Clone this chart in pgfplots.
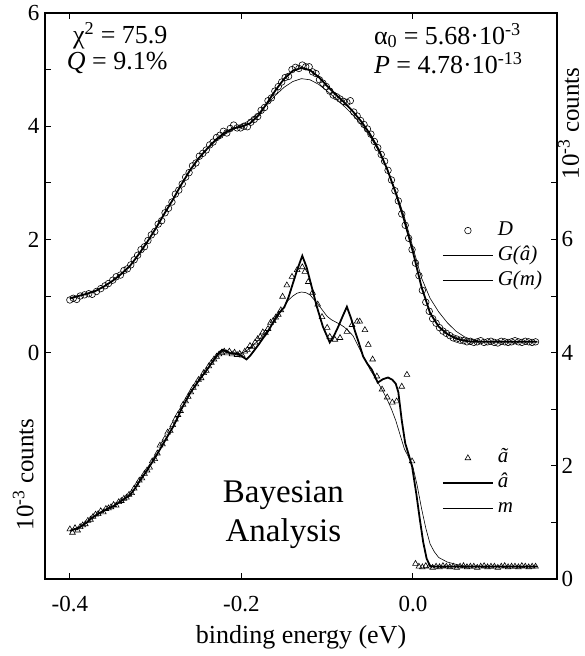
\documentclass[border=0pt]{standalone}
\usepackage{fontspec}
\setmainfont{Liberation Serif}
\usepackage{pgfplots}
\usepackage{pgfplotstable}
\pgfplotsset{compat=1.18}

% upper spectrum D (left axis)
\pgfplotstableread{
x y
-0.400 0.93
-0.396 0.96
-0.392 0.94
-0.388 1.00
-0.383 1.02
-0.378 1.04
-0.374 1.03
-0.369 1.08
-0.364 1.13
-0.359 1.18
-0.355 1.22
-0.350 1.28
-0.346 1.34
-0.341 1.37
-0.337 1.45
-0.333 1.48
-0.329 1.55
-0.325 1.64
-0.321 1.72
-0.317 1.82
-0.313 1.87
-0.309 1.98
-0.305 2.08
-0.301 2.14
-0.297 2.27
-0.293 2.33
-0.289 2.47
-0.285 2.55
-0.281 2.66
-0.277 2.80
-0.273 2.87
-0.269 2.98
-0.265 3.10
-0.261 3.18
-0.257 3.30
-0.253 3.35
-0.249 3.47
-0.245 3.52
-0.241 3.58
-0.237 3.67
-0.233 3.72
-0.229 3.80
-0.225 3.84
-0.221 3.91
-0.217 3.88
-0.213 3.96
-0.209 4.02
-0.205 3.97
-0.201 3.97
-0.197 4.00
-0.193 3.99
-0.189 4.07
-0.185 4.12
-0.181 4.17
-0.177 4.28
-0.173 4.33
-0.169 4.45
-0.165 4.50
-0.161 4.62
-0.157 4.70
-0.153 4.78
-0.149 4.86
-0.145 4.88
-0.141 5.00
-0.137 5.04
-0.133 5.02
-0.129 5.08
-0.125 5.05
-0.121 5.05
-0.117 4.96
-0.113 4.93
-0.109 4.82
-0.105 4.76
-0.101 4.70
-0.097 4.62
-0.093 4.55
-0.089 4.52
-0.085 4.48
-0.081 4.44
-0.077 4.42
-0.073 4.45
-0.069 4.25
-0.065 4.18
-0.061 4.10
-0.057 4.03
-0.053 3.95
-0.049 3.86
-0.045 3.73
-0.041 3.62
-0.037 3.50
-0.033 3.38
-0.029 3.22
-0.025 3.05
-0.021 2.86
-0.017 2.68
-0.013 2.45
-0.009 2.25
-0.005 2.02
-0.001 1.82
0.003 1.58
0.007 1.36
0.011 1.10
0.015 0.89
0.019 0.73
0.023 0.60
0.027 0.52
0.031 0.44
0.035 0.38
0.039 0.34
0.043 0.30
0.047 0.26
0.051 0.24
0.055 0.22
0.059 0.21
0.063 0.19
0.067 0.20
0.071 0.18
0.075 0.19
0.079 0.21
0.083 0.18
0.087 0.19
0.091 0.20
0.095 0.18
0.099 0.17
0.103 0.20
0.107 0.19
0.111 0.18
0.115 0.19
0.119 0.21
0.123 0.19
0.127 0.18
0.131 0.20
0.135 0.19
0.139 0.18
0.143 0.19
}\Ddata

\pgfplotstableread{
x y
-0.400 0.96
-0.390 1.00
-0.380 1.04
-0.370 1.09
-0.360 1.17
-0.350 1.27
-0.340 1.39
-0.330 1.53
-0.320 1.73
-0.310 1.95
-0.300 2.19
-0.290 2.45
-0.280 2.70
-0.270 2.97
-0.260 3.22
-0.250 3.43
-0.240 3.60
-0.230 3.76
-0.220 3.88
-0.210 3.96
-0.200 3.99
-0.190 4.05
-0.180 4.19
-0.170 4.41
-0.160 4.64
-0.150 4.84
-0.140 4.98
-0.130 5.03
-0.120 4.99
-0.110 4.87
-0.100 4.71
-0.090 4.56
-0.080 4.42
-0.070 4.26
-0.060 4.08
-0.050 3.86
-0.040 3.59
-0.030 3.24
-0.020 2.82
-0.010 2.33
0.000 1.78
0.010 1.16
0.020 0.70
0.030 0.46
0.040 0.33
0.050 0.25
0.060 0.21
0.070 0.19
0.080 0.19
0.100 0.19
0.120 0.19
0.145 0.19
}\GAdata

\pgfplotstableread{
x y
-0.400 0.96
-0.390 1.00
-0.380 1.04
-0.370 1.09
-0.360 1.17
-0.350 1.27
-0.340 1.39
-0.330 1.53
-0.320 1.73
-0.310 1.95
-0.300 2.19
-0.290 2.45
-0.280 2.70
-0.270 2.97
-0.260 3.22
-0.250 3.43
-0.240 3.60
-0.230 3.74
-0.220 3.85
-0.210 3.94
-0.200 4.02
-0.190 4.11
-0.180 4.23
-0.170 4.39
-0.160 4.55
-0.150 4.69
-0.140 4.79
-0.130 4.84
-0.120 4.82
-0.110 4.74
-0.100 4.62
-0.090 4.49
-0.080 4.35
-0.070 4.20
-0.060 4.03
-0.050 3.82
-0.040 3.56
-0.030 3.24
-0.020 2.85
-0.010 2.40
0.000 1.86
0.010 1.32
0.020 0.96
0.030 0.72
0.040 0.53
0.050 0.38
0.060 0.28
0.070 0.22
0.080 0.20
0.090 0.19
0.120 0.19
0.145 0.19
}\GMdata

% lower spectrum (right axis)
\pgfplotstableread{
x y
-0.400 0.88
-0.397 0.82
-0.394 0.90
-0.391 0.86
-0.388 0.92
-0.385 0.95
-0.382 0.97
-0.379 1.03
-0.376 1.05
-0.373 1.10
-0.370 1.14
-0.367 1.15
-0.364 1.20
-0.361 1.18
-0.358 1.24
-0.355 1.25
-0.352 1.27
-0.349 1.31
-0.346 1.30
-0.343 1.36
-0.340 1.38
-0.337 1.42
-0.334 1.44
-0.331 1.49
-0.328 1.52
-0.325 1.60
-0.322 1.66
-0.319 1.74
-0.316 1.78
-0.313 1.86
-0.310 1.92
-0.307 1.97
-0.304 2.08
-0.301 2.12
-0.298 2.22
-0.295 2.36
-0.292 2.38
-0.289 2.48
-0.286 2.59
-0.283 2.62
-0.280 2.72
-0.277 2.82
-0.274 2.90
-0.271 2.97
-0.268 3.08
-0.265 3.14
-0.262 3.22
-0.259 3.30
-0.256 3.38
-0.253 3.44
-0.250 3.52
-0.247 3.55
-0.244 3.64
-0.241 3.68
-0.238 3.76
-0.235 3.82
-0.232 3.88
-0.229 3.93
-0.226 3.97
-0.223 4.00
-0.220 4.02
-0.217 3.99
-0.214 4.02
-0.211 3.97
-0.208 4.00
-0.205 3.96
-0.202 3.98
-0.199 3.95
-0.196 4.02
-0.193 4.05
-0.190 4.12
-0.187 4.10
-0.184 4.18
-0.181 4.24
-0.178 4.28
-0.175 4.36
-0.172 4.35
-0.169 4.42
-0.166 4.53
-0.163 4.56
-0.160 4.62
-0.157 4.67
-0.154 4.75
-0.152 4.99
-0.147 5.19
-0.141 5.34
-0.135 5.46
-0.129 5.51
-0.126 5.43
-0.122 5.25
-0.117 5.06
-0.111 4.85
-0.106 4.63
-0.100 4.44
-0.097 4.28
-0.091 4.23
-0.085 4.26
-0.077 4.37
-0.071 4.49
-0.065 4.55
-0.062 4.55
-0.056 4.40
-0.052 4.14
-0.047 3.88
-0.042 3.58
-0.036 3.35
-0.030 3.21
-0.024 3.12
-0.019 3.14
-0.013 3.40
-0.007 3.61
-0.001 2.08
0.003 0.27
0.007 0.22
0.011 0.21
0.015 0.23
0.019 0.22
0.023 0.20
0.027 0.22
0.031 0.21
0.035 0.23
0.039 0.22
0.043 0.21
0.047 0.22
0.051 0.20
0.055 0.22
0.059 0.23
0.063 0.21
0.067 0.22
0.071 0.22
0.075 0.20
0.079 0.22
0.083 0.23
0.087 0.21
0.091 0.22
0.095 0.22
0.099 0.20
0.103 0.22
0.107 0.23
0.111 0.21
0.115 0.22
0.119 0.22
0.123 0.21
0.127 0.23
0.131 0.22
0.135 0.21
0.139 0.22
0.143 0.22
}\Adata

\pgfplotstableread{
x y
-0.400 0.85
-0.395 0.88
-0.390 0.90
-0.385 0.95
-0.380 1.00
-0.375 1.07
-0.370 1.12
-0.365 1.17
-0.360 1.21
-0.355 1.25
-0.350 1.28
-0.345 1.33
-0.340 1.38
-0.335 1.43
-0.330 1.48
-0.325 1.58
-0.320 1.70
-0.315 1.81
-0.310 1.92
-0.305 2.04
-0.300 2.16
-0.295 2.29
-0.290 2.42
-0.285 2.55
-0.280 2.68
-0.275 2.83
-0.270 3.00
-0.265 3.14
-0.260 3.28
-0.255 3.39
-0.250 3.50
-0.245 3.60
-0.240 3.70
-0.235 3.81
-0.230 3.92
-0.226 4.00
-0.222 4.05
-0.218 4.03
-0.213 3.99
-0.208 3.99
-0.203 3.97
-0.198 3.92
-0.194 3.88
-0.190 3.94
-0.186 4.02
-0.180 4.14
-0.175 4.25
-0.170 4.35
-0.165 4.48
-0.160 4.62
-0.155 4.72
-0.150 4.80
-0.145 4.98
-0.140 5.22
-0.135 5.46
-0.129 5.71
-0.124 5.51
-0.118 5.16
-0.112 4.81
-0.105 4.46
-0.097 4.18
-0.092 4.30
-0.087 4.46
-0.082 4.64
-0.077 4.81
-0.072 4.60
-0.068 4.40
-0.063 4.17
-0.058 3.93
-0.053 3.80
-0.048 3.70
-0.041 3.47
-0.035 3.53
-0.029 3.56
-0.024 3.52
-0.020 3.45
-0.017 3.30
-0.013 2.80
-0.009 2.40
-0.005 2.20
-0.001 1.99
0.004 1.50
0.008 1.06
0.012 0.65
0.016 0.36
0.020 0.23
0.025 0.22
0.145 0.22
}\AHdata

\pgfplotstableread{
x y
-0.400 0.85
-0.395 0.88
-0.390 0.90
-0.385 0.95
-0.380 1.00
-0.375 1.07
-0.370 1.12
-0.365 1.17
-0.360 1.21
-0.355 1.25
-0.350 1.28
-0.345 1.33
-0.340 1.38
-0.335 1.43
-0.330 1.48
-0.325 1.58
-0.320 1.70
-0.315 1.81
-0.310 1.92
-0.305 2.04
-0.300 2.16
-0.295 2.29
-0.290 2.42
-0.285 2.55
-0.280 2.68
-0.275 2.83
-0.270 3.00
-0.265 3.14
-0.260 3.28
-0.255 3.39
-0.250 3.50
-0.245 3.60
-0.240 3.70
-0.235 3.80
-0.230 3.90
-0.225 4.00
-0.220 4.02
-0.215 4.00
-0.210 3.98
-0.205 3.98
-0.200 3.99
-0.195 4.02
-0.190 4.08
-0.185 4.15
-0.180 4.22
-0.175 4.30
-0.170 4.38
-0.165 4.48
-0.160 4.58
-0.155 4.70
-0.150 4.82
-0.145 4.93
-0.140 5.00
-0.135 5.05
-0.130 5.07
-0.125 5.06
-0.120 5.02
-0.115 4.93
-0.110 4.84
-0.105 4.74
-0.100 4.64
-0.095 4.58
-0.090 4.54
-0.085 4.50
-0.080 4.45
-0.075 4.38
-0.070 4.30
-0.065 4.15
-0.060 4.00
-0.055 3.85
-0.050 3.70
-0.045 3.58
-0.040 3.45
-0.035 3.32
-0.030 3.17
-0.025 3.00
-0.020 2.80
-0.015 2.55
-0.010 2.30
-0.005 2.15
0.000 1.98
0.005 1.65
0.010 1.25
0.015 0.90
0.020 0.62
0.025 0.48
0.030 0.38
0.040 0.30
0.050 0.26
0.060 0.23
0.070 0.22
0.145 0.22
}\Mdata

\pgfplotsset{
  common/.style={
    at={(45pt,77pt)}, anchor=south west,
    scale only axis, width=512pt, height=566pt,
    xmin=-0.429, xmax=0.168,
    tick align=inside, major tick length=6pt, minor tick length=6pt,
    every tick/.style={line width=0.9pt, black},
    axis line style={line width=1.4pt},
    ticklabel style={font=\fontsize{23}{27}\selectfont},
    clip=false,
    legend image code/.code={\draw[mark repeat=2,mark phase=2,##1]
       plot coordinates {(0pt,0pt) (25pt,0pt) (50pt,0pt)};},
    legend style={draw=none, fill=none, anchor=north west,
       font=\fontsize{21}{25}\selectfont, inner sep=0pt, row sep=0pt,
       nodes={inner xsep=4pt, inner ysep=2pt, text height=15pt, text depth=6pt, anchor=west}},
  },
}

\begin{document}
\begin{tikzpicture}
\useasboundingbox (0,0) rectangle (584pt,656pt);
\begin{axis}[common,
  ymin=-4, ymax=6,
  xtick={-0.4,-0.2,0}, xticklabels={-0.4,-0.2,0.0},
  ytick={0,2,4,6}, yticklabels={0,2,4,6}, minor ytick={1,3,5},
  xtick pos=both, ytick pos=left,
  xticklabel style={yshift=-14pt},
  yticklabel style={xshift=-2pt},
  xlabel={binding energy (eV)},
  xlabel style={font=\fontsize{26}{31}\selectfont, yshift=-6pt},
  legend style={at={(0.775,0.638)}},
]
\addplot[only marks, mark=o, mark size=3.3pt, mark options={line width=0.6pt}] table {\Ddata};
\addlegendentry{\itshape D}
\addplot[line width=1.8pt] table {\GAdata};
\addlegendentry{\itshape G(â)}
\addplot[line width=0.6pt] table {\GMdata};
\addlegendentry{\itshape G(m)}

\node[anchor=east, inner sep=0pt, font=\fontsize{26}{30}\selectfont] at (axis cs:-0.286,5.60) {χ\textsuperscript{2} = 75.9};
\node[anchor=east, inner sep=0pt, font=\fontsize{26}{30}\selectfont] at (axis cs:-0.286,5.12) {\textit{Q} = 9.1\%};
\node[anchor=west, inner sep=0pt, font=\fontsize{26}{30}\selectfont] at (axis cs:-0.0455,5.60) {α\textsubscript{0} = 5.68·10\textsuperscript{-3}};
\node[anchor=west, inner sep=0pt, font=\fontsize{26}{30}\selectfont] at (axis cs:-0.0455,5.12) {\textit{P} = 4.78·10\textsuperscript{-13}};
\node[align=center, font=\fontsize{33}{39}\selectfont] at (axis cs:-0.151,-2.87) {Bayesian\\Analysis};
\node[rotate=90, inner sep=0pt, font=\fontsize{25}{30}\selectfont] at (axis cs:-0.4545,-2.15) {10\textsuperscript{-3} counts};
\node[rotate=90, inner sep=0pt, font=\fontsize{25}{30}\selectfont] at (axis cs:0.1815,4.05) {10\textsuperscript{-3} counts};
\end{axis}

\begin{axis}[common,
  ymin=0, ymax=10,
  axis x line=none, axis y line*=right,
  ytick={0,2,4,6}, yticklabels={0,2,4,6}, minor ytick={1,3,5,7},
  yticklabel style={xshift=1pt},
  legend style={at={(0.775,0.236)}},
]
\addplot[only marks, mark=triangle, mark size=3.3pt, mark options={line width=0.6pt}] table {\Adata};
\addlegendentry{\itshape ã}
\addplot[line width=1.8pt] table {\AHdata};
\addlegendentry{\itshape â}
\addplot[line width=0.6pt] table {\Mdata};
\addlegendentry{\itshape m}
\end{axis}
\end{tikzpicture}
\end{document}
